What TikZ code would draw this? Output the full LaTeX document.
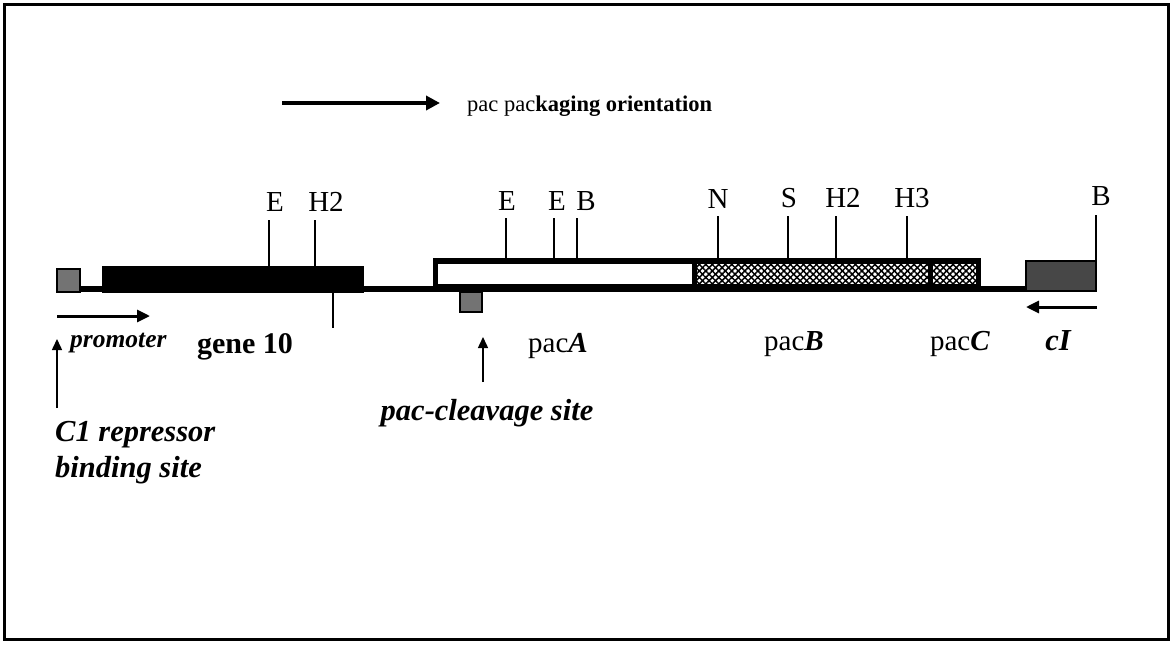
\documentclass[tikz,border=0pt]{standalone}
\usepackage{fontspec}
\setmainfont{Liberation Serif}
\usetikzlibrary{arrows.meta,patterns.meta}
\begin{document}
\begin{tikzpicture}[x=1pt,y=-1pt,
  lbl/.style={anchor=base,inner sep=0pt,font=\fontsize{29}{34}\selectfont},
  bilbl/.style={inner sep=0pt,font=\fontsize{30.5}{36}\selectfont\bfseries\itshape},
  tickline/.style={line width=1.6pt},
  greybox/.style={fill=black!55,draw=black,line width=2pt},
  darkbox/.style={fill=black!72,draw=black,line width=2pt},
  hatchA/.style={pattern={Lines[angle=45,distance=4.6pt,line width=1.5pt]}},
  hatchB/.style={pattern={Lines[angle=-45,distance=4.6pt,line width=1.5pt]}},
  bigarrow/.style={line width=4pt,-{Triangle[length=14pt,width=14pt]}},
  midarrow/.style={line width=3pt,-{Triangle[length=13pt,width=12pt]}},
  uparrow/.style={line width=1.5pt,-{Triangle[length=11pt,width=10pt]}}]
\useasboundingbox (0,0) rectangle (1175,645);
% frame
\draw[line width=3pt] (4.5,4.5) rectangle (1168.5,639);

% orientation arrow and text
\coordinate (oa) at (282,103);
\coordinate (ob) at (440,103);
\draw[bigarrow] (oa) -- (ob);
\node[anchor=base west,inner sep=0pt,font=\fontsize{22.5}{28}\selectfont] (orient) at (467,111) {pac pac\textbf{kaging orientation}};

% backbone
\fill (56,286) rectangle (1097,292);
% left small square (C1 binding)
\draw[greybox] (57,269) rectangle (80,292);
% gene 10
\fill (102,266) rectangle (364,293);
% pac box
\fill (433,258) rectangle (981,292);
\fill[white] (438,264) rectangle (692,284);
\fill[white] (697,264) rectangle (928,284);
\fill[hatchA] (697,264) rectangle (928,284);
\fill[hatchB] (697,264) rectangle (928,284);
\fill[white] (933,264) rectangle (976,284);
\fill[hatchA] (933,264) rectangle (976,284);
\fill[hatchB] (933,264) rectangle (976,284);
% cI box
\draw[darkbox] (1026,261) rectangle (1096,291);
% pac cleavage square
\draw[greybox] (460,292) rectangle (482,312);

% restriction ticks
\draw[tickline] (269,220) -- (269,266);
\draw[tickline] (315,220) -- (315,266);
\draw[tickline] (333,292) -- (333,328);
\draw[tickline] (506,218) -- (506,258);
\draw[tickline] (554,218) -- (554,258);
\draw[tickline] (577,218) -- (577,258);
\draw[tickline] (718,216) -- (718,258);
\draw[tickline] (788,216) -- (788,258);
\draw[tickline] (836,216) -- (836,258);
\draw[tickline] (907,216) -- (907,258);
\draw[tickline] (1096,215) -- (1096,261);

% restriction labels
\node[lbl] (e1) at (275,211) {E};
\node[lbl] (h1) at (326,211) {H2};
\node[lbl] (e2) at (507,210) {E};
\node[lbl] (e3) at (557,210) {E};
\node[lbl] (b1) at (586,210) {B};
\node[lbl] (n1) at (718,208) {N};
\node[lbl] (s1) at (789,207) {S};
\node[lbl] (h2) at (843,207) {H2};
\node[lbl] (h3) at (912,207) {H3};
\node[lbl] (b2) at (1101,205) {B};

% promoter & cI arrows
\coordinate (pa) at (57,316);
\coordinate (pb) at (150,316);
\draw[midarrow] (pa) -- (pb);
\coordinate (ca) at (1097,307);
\coordinate (cb) at (1026,307);
\draw[midarrow] (ca) -- (cb);

% lower labels
\node[anchor=base west,inner sep=0pt,font=\fontsize{25.5}{30}\selectfont\bfseries\itshape] (prom) at (70,347) {promoter};
\node[lbl,font=\fontsize{30}{36}\selectfont\bfseries] (g10) at (245,353) {gene 10};
\node[lbl] (pA) at (558,352) {pac\textbf{\textit{A}}};
\node[lbl] (pB) at (794,350) {pac\textbf{\textit{B}}};
\node[lbl] (pC) at (960,350) {pac\textbf{\textit{C}}};
\node[bilbl,anchor=base] (cI) at (1058,350) {cI};
\node[bilbl,anchor=base] (pcs) at (487,420) {pac-cleavage site};
\node[bilbl,anchor=base west] (c1) at (55,441) {C1 repressor};
\node[bilbl,anchor=base west] (bs) at (55,477) {binding site};

% up arrows
\coordinate (ua) at (57,408);
\coordinate (ub) at (57,339);
\draw[uparrow] (ua) -- (ub);
\coordinate (va) at (483,382);
\coordinate (vb) at (483,337);
\draw[uparrow] (va) -- (vb);
\end{tikzpicture}
\end{document}
